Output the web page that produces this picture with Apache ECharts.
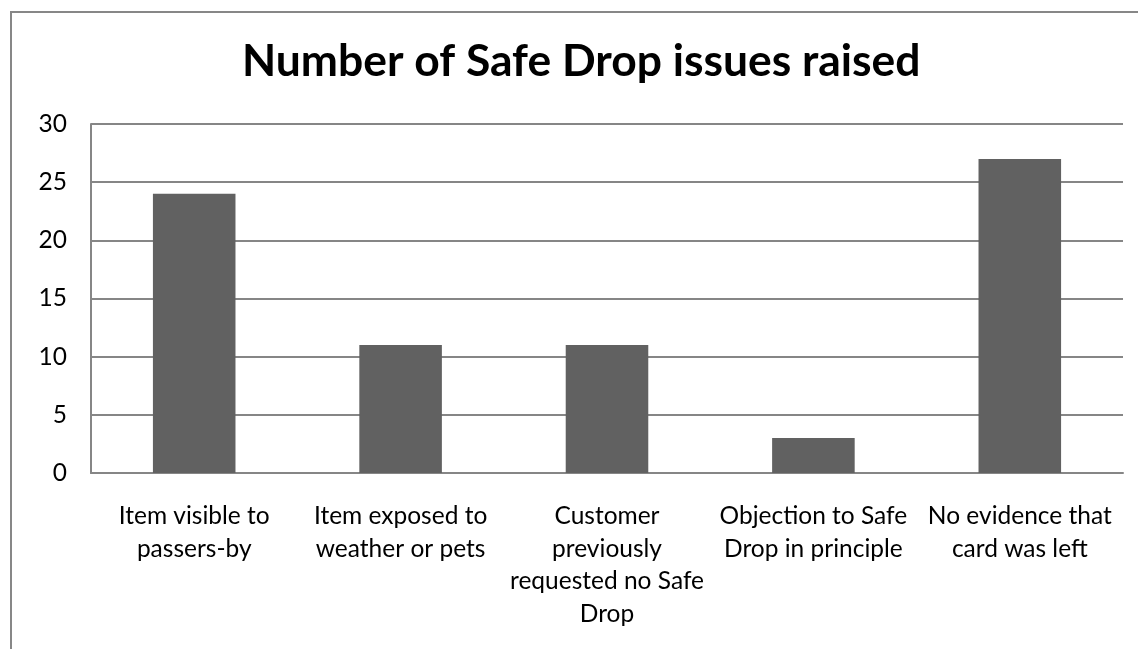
<!DOCTYPE html>
<html>
<head>
<meta charset="utf-8">
<script src="https://cdn.jsdelivr.net/npm/echarts@6/dist/echarts.min.js"></script>
<style>
html,body{margin:0;padding:0;background:#fff;}
#chart{width:1138px;height:649px;}
</style>
</head>
<body>
<div id="chart"></div>
<script>
const titleText = "Number of Safe Drop issues raised";
const categories = [
  "Item visible to\npassers-by",
  "Item exposed to\nweather or pets",
  "Customer\npreviously\nrequested no Safe\nDrop",
  "Objection to Safe\nDrop in principle",
  "No evidence that\ncard was left"
];
const values = [24, 11, 11, 3, 27];
const yTicks = { min: 0, max: 30, interval: 5 };

const chart = echarts.init(document.getElementById('chart'));
chart.setOption({
  animation: false,
  backgroundColor: '#ffffff',
  graphic: [{
    type: 'rect',
    shape: { x: 11, y: 12, width: 1140, height: 660 },
    style: { fill: 'none', stroke: '#878787', lineWidth: 2 },
    silent: true
  }],
  title: {
    text: titleText,
    left: 237,
    top: 35,
    textStyle: { fontFamily: 'Lato', fontWeight: 'bold', fontSize: 44.4, color: '#000' }
  },
  grid: { left: 91, right: 15, top: 124, bottom: 176, containLabel: false },
  xAxis: {
    type: 'category',
    data: categories,
    axisTick: { show: false },
    axisLine: { show: true, lineStyle: { color: '#868686', width: 2 } },
    axisLabel: {
      interval: 0,
      fontFamily: 'Lato',
      fontSize: 24.5,
      lineHeight: 32.5,
      color: '#000',
      margin: 27,
      align: 'center'
    }
  },
  yAxis: {
    type: 'value',
    min: yTicks.min,
    max: yTicks.max,
    interval: yTicks.interval,
    axisLine: { show: true, lineStyle: { color: '#868686', width: 2 } },
    axisTick: { show: false },
    splitLine: { show: true, lineStyle: { color: '#868686', width: 2 } },
    axisLabel: { fontFamily: 'Lato', fontSize: 24.5, color: '#000', margin: 24 }
  },
  series: [{
    type: 'bar',
    data: values,
    barWidth: '40%',
    itemStyle: { color: '#616161' }
  }]
});
</script>
</body>
</html>
